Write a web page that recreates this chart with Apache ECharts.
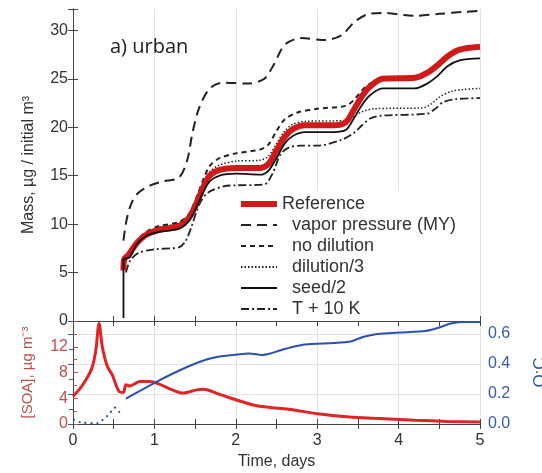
<!DOCTYPE html>
<html><head><meta charset="utf-8">
<script src="https://cdn.jsdelivr.net/npm/echarts@6/dist/echarts.min.js"></script>
<style>html,body{margin:0;padding:0;background:#fff}#c{width:542px;height:473px}</style>
</head><body><div id="c"></div>
<script>
// ---- data (time in days, value) ----
const seriesNames = ['Reference', 'vapor pressure (MY)', 'no dilution', 'dilution/3', 'seed/2', 'T + 10 K'];
const reference = [[0.62,5.2],[0.63,6.4],[0.68,6.8],[0.78,8.0],[0.9,8.9],[1.06,9.4],[1.3,9.8],[1.42,10.6],[1.52,12.2],[1.6,13.8],[1.68,15.0],[1.8,15.6],[2.0,15.8],[2.3,15.8],[2.4,16.2],[2.5,17.6],[2.6,19.0],[2.7,19.8],[2.85,20.2],[3.2,20.2],[3.35,20.5],[3.45,21.8],[3.55,23.2],[3.65,24.2],[3.8,25.0],[4.2,25.1],[4.35,25.6],[4.48,26.4],[4.6,27.3],[4.75,28.0],[5.0,28.3]];
const vaporPressure = [[0.62,8.3],[0.66,10.5],[0.72,12.2],[0.8,13.2],[0.95,14.0],[1.1,14.4],[1.3,14.8],[1.4,16.5],[1.47,19.5],[1.55,22.0],[1.68,24.0],[1.85,24.6],[2.15,24.5],[2.35,25.0],[2.47,26.5],[2.6,28.5],[2.8,29.2],[3.1,29.0],[3.3,29.5],[3.45,30.8],[3.6,31.6],[3.8,31.8],[4.2,31.5],[4.5,31.7],[4.8,31.9],[5.0,32.0]];
const noDilution = [[0.62,5.5],[0.63,6.6],[0.7,7.0],[0.78,8.2],[0.9,9.2],[1.06,9.8],[1.3,10.2],[1.42,11.0],[1.52,12.8],[1.6,14.6],[1.68,16.0],[1.8,16.8],[2.0,17.3],[2.3,17.7],[2.4,18.2],[2.5,19.6],[2.6,20.8],[2.75,21.5],[3.0,21.9],[3.35,22.2],[3.45,22.8],[3.55,23.8],[3.65,24.5],[3.8,25.0],[4.2,25.2],[4.35,25.7],[4.48,26.5],[4.6,27.4],[4.75,28.0],[5.0,28.3]];
const dilution3 = [[0.62,5.4],[0.63,6.5],[0.7,6.9],[0.78,8.2],[0.9,9.1],[1.06,9.7],[1.3,10.1],[1.42,10.9],[1.52,12.5],[1.6,14.2],[1.68,15.4],[1.8,16.1],[2.0,16.5],[2.3,16.6],[2.4,17.0],[2.5,18.3],[2.6,19.6],[2.7,20.3],[2.85,20.6],[3.35,20.7],[3.45,21.1],[3.55,21.6],[3.7,21.9],[4.3,22.0],[4.4,22.4],[4.5,23.1],[4.65,23.7],[4.8,23.9],[5.0,24.0]];
const seed2 = [[0.62,0.3],[0.62,6.3],[0.7,6.6],[0.78,7.9],[0.9,8.8],[1.06,9.2],[1.3,9.5],[1.42,10.3],[1.52,11.8],[1.6,13.3],[1.68,14.4],[1.8,15.0],[2.0,15.2],[2.3,15.1],[2.4,15.5],[2.5,16.8],[2.6,18.3],[2.7,19.1],[2.85,19.5],[3.2,19.5],[3.35,19.7],[3.45,20.9],[3.55,22.3],[3.65,23.3],[3.8,24.0],[4.2,24.0],[4.35,24.5],[4.48,25.3],[4.6,26.3],[4.75,26.9],[5.0,27.1]];
const tPlus10 = [[0.65,5.0],[0.7,6.2],[0.8,7.0],[1.0,7.4],[1.3,7.6],[1.38,8.2],[1.45,9.6],[1.55,12.0],[1.65,13.2],[1.85,13.9],[2.0,14.0],[2.35,14.1],[2.45,15.2],[2.55,17.2],[2.65,17.9],[2.8,18.1],[3.0,18.1],[3.3,18.7],[3.45,19.4],[3.55,20.2],[3.65,20.9],[3.8,21.2],[4.35,21.4],[4.45,21.9],[4.55,22.6],[4.7,22.9],[5.0,23.0]];
const soa = [[0,4.3],[0.11,5.9],[0.23,8.6],[0.28,11.4],[0.32,15.6],[0.36,12.0],[0.42,9.0],[0.48,7.7],[0.57,5.0],[0.62,4.9],[0.65,6.1],[0.7,5.9],[0.82,6.6],[0.94,6.6],[1.06,6.2],[1.22,5.3],[1.35,4.8],[1.52,5.3],[1.6,5.4],[1.8,4.6],[2.2,3.0],[2.4,2.6],[2.65,2.3],[3.0,1.6],[3.4,1.1],[3.7,0.9],[4.2,0.6],[4.6,0.4],[5.0,0.3]];
const ocEarly = [[0,0.03],[0.1,0.01],[0.3,0.005],[0.37,0.03],[0.45,0.07],[0.51,0.11],[0.57,0.08],[0.6,0.07]];
const ocLate = [[0.65,0.17],[1.02,0.28],[1.4,0.38],[1.64,0.43],[1.8,0.45],[1.96,0.46],[2.17,0.47],[2.32,0.46],[2.42,0.47],[2.54,0.49],[2.67,0.51],[2.85,0.53],[3.2,0.54],[3.41,0.55],[3.56,0.58],[3.74,0.6],[4.02,0.61],[4.33,0.62],[4.48,0.64],[4.64,0.67],[4.83,0.68],[5.0,0.68]];
const xTicks = [0, 1, 2, 3, 4, 5];

const FONT = 'Liberation Sans';
const RED = '#d01a1a';
const SOARED = '#e02424';
const LRED = '#c0504d';
const BLUE = '#2b50b0';
const LBLUE = '#3a5aa8';
const FRAME = '#444';

function xAx(grid, pos, labels) {
  return {
    type: 'value', gridIndex: grid, position: pos, min: xTicks[0], max: xTicks[xTicks.length-1], interval: 1,
    axisLine: { show: true, lineStyle: { color: FRAME, width: 1 } },
    axisTick: { show: true, inside: true, length: 5, lineStyle: { color: FRAME } },
    minorTick: { show: true, splitNumber: 2, length: 5, lineStyle: { color: FRAME } },
    axisLabel: { show: labels, fontFamily: FONT, fontSize: 16, color: '#333', margin: 9 },
    splitLine: { show: pos === 'bottom', lineStyle: { color: '#e2e2e2', width: 1 } },
    minorSplitLine: { show: false }
  };
}

const chart = echarts.init(document.getElementById('c'), null, { renderer: 'canvas' });
const dashLong = [10, 6], dashShort = [5, 4], dotted = [1.5, 2], dashDot = [8, 3, 2, 3];

chart.setOption({
  animation: false,
  backgroundColor: '#fff',
  title: { text: 'a) urban', left: 105, top: 32, textStyle: { fontFamily: 'Open Sans', fontSize: 20, fontWeight: 'normal', color: '#222' } },
  grid: [
    { left: 73, right: 62, top: 9, height: 312, outerBoundsMode: 'none', containLabel: false },
    { left: 73, right: 62, top: 321, height: 103, outerBoundsMode: 'none', containLabel: false }
  ],
  legend: {
    data: seriesNames.map(n => n === 'Reference' ? { name: n, lineStyle: { width: 6 } } : { name: n }),
    orient: 'vertical', left: 232, top: 191,
    itemWidth: 36, itemHeight: 14, itemGap: 3,
    backgroundColor: '#fff', padding: [4, 16, 3, 6],
    itemStyle: { opacity: 0 },
    textStyle: { fontFamily: FONT, fontSize: 18, color: '#333' },
    formatter: n => n === 'Reference' ? n : '  ' + n,
    selectedMode: false
  },
  xAxis: [
    xAx(0, 'bottom', false),
    xAx(0, 'top', false),
    Object.assign(xAx(1, 'bottom', true), { name: 'Time, days', nameLocation: 'middle', nameGap: 30, nameTextStyle: { fontFamily: FONT, fontSize: 16, color: '#333' } }),
    xAx(1, 'top', false)
  ],
  yAxis: [
    { type: 'value', gridIndex: 0, position: 'left', min: 0, max: 32.2, interval: 5,
      name: 'Mass, µg / initial m³', nameLocation: 'middle', nameGap: 36, nameRotate: 90,
      nameTextStyle: { fontFamily: FONT, fontSize: 16, color: '#333' },
      axisLine: { show: true, lineStyle: { color: FRAME } },
      axisTick: { show: true, inside: true, length: 5, lineStyle: { color: FRAME } },
      axisLabel: { fontFamily: FONT, fontSize: 16, color: '#333', margin: 5, formatter: v => (v % 5 === 0 ? String(v) : '') },
      splitLine: { show: false } },
    { type: 'value', gridIndex: 0, position: 'right', min: 0, max: 32.2, interval: 5,
      axisLine: { show: true, lineStyle: { color: FRAME } },
      axisTick: { show: true, inside: true, length: 5, lineStyle: { color: FRAME } },
      axisLabel: { show: false }, splitLine: { show: false } },
    { type: 'value', gridIndex: 1, position: 'left', min: 0, max: 16, interval: 4,
      name: '[SOA], µg m⁻³', nameLocation: 'middle', nameGap: 38, nameRotate: 90,
      nameTextStyle: { fontFamily: FONT, fontSize: 15, color: LRED },
      axisLine: { show: true, lineStyle: { color: FRAME } },
      axisTick: { show: true, inside: true, length: 5, lineStyle: { color: LRED } },
      minorTick: { show: true, splitNumber: 2, length: 4, lineStyle: { color: LRED } },
      axisLabel: { fontFamily: FONT, fontSize: 16, color: LRED, margin: 5, formatter: v => (v < 16 ? String(v) : '') },
      splitLine: { show: false } },
    { type: 'value', gridIndex: 1, position: 'right', min: 0, max: 0.687, interval: 0.2,
      name: 'O:C', nameLocation: 'middle', nameGap: 52, nameRotate: 90,
      nameTextStyle: { fontFamily: FONT, fontSize: 17, color: LBLUE },
      axisLine: { show: true, lineStyle: { color: FRAME } },
      axisTick: { show: true, inside: true, length: 5, lineStyle: { color: LBLUE } },
      minorTick: { show: true, splitNumber: 2, length: 4, lineStyle: { color: LBLUE } },
      axisLabel: { fontFamily: FONT, fontSize: 16, color: LBLUE, margin: 8,
        formatter: v => (Math.abs(v * 5 - Math.round(v * 5)) < 1e-6 && v < 0.65 ? v.toFixed(1) : '') },
      splitLine: { show: true, lineStyle: { color: '#e2e2e2' } } }
  ],
  series: [
    { name: 'vapor pressure (MY)', type: 'line', xAxisIndex: 0, yAxisIndex: 0, data: vaporPressure, symbol: 'none', smooth: 0.3, lineStyle: { color: '#222', width: 2, type: dashLong }, itemStyle: { color: '#222' } },
    { name: 'no dilution', type: 'line', xAxisIndex: 0, yAxisIndex: 0, data: noDilution, symbol: 'none', smooth: 0.3, lineStyle: { color: '#222', width: 2, type: dashShort }, itemStyle: { color: '#222' } },
    { name: 'dilution/3', type: 'line', xAxisIndex: 0, yAxisIndex: 0, data: dilution3, symbol: 'none', smooth: 0.3, lineStyle: { color: '#222', width: 1.5, type: dotted }, itemStyle: { color: '#222' } },
    { name: 'T + 10 K', type: 'line', xAxisIndex: 0, yAxisIndex: 0, data: tPlus10, symbol: 'none', smooth: 0.3, lineStyle: { color: '#222', width: 1.8, type: dashDot }, itemStyle: { color: '#222' } },
    { name: 'Reference', type: 'line', xAxisIndex: 0, yAxisIndex: 0, data: reference, symbol: 'none', smooth: 0.3, lineStyle: { color: RED, width: 6 }, itemStyle: { color: RED }, z: 3 },
    { name: 'seed/2', type: 'line', xAxisIndex: 0, yAxisIndex: 0, data: seed2, symbol: 'none', smooth: 0.3, lineStyle: { color: '#111', width: 1.8 }, itemStyle: { color: '#111' }, z: 4 },
    { name: 'SOA', type: 'line', xAxisIndex: 2, yAxisIndex: 2, data: soa, symbol: 'none', smooth: 0.3, lineStyle: { color: SOARED, width: 3 } },
    { name: 'O:C early', type: 'line', xAxisIndex: 2, yAxisIndex: 3, data: ocEarly, symbol: 'none', smooth: 0.3, lineStyle: { color: BLUE, width: 2, type: [2, 4] } },
    { name: 'O:C', type: 'line', xAxisIndex: 2, yAxisIndex: 3, data: ocLate, symbol: 'none', smooth: 0.2, lineStyle: { color: BLUE, width: 2 } }
  ]
});
</script></body></html>
